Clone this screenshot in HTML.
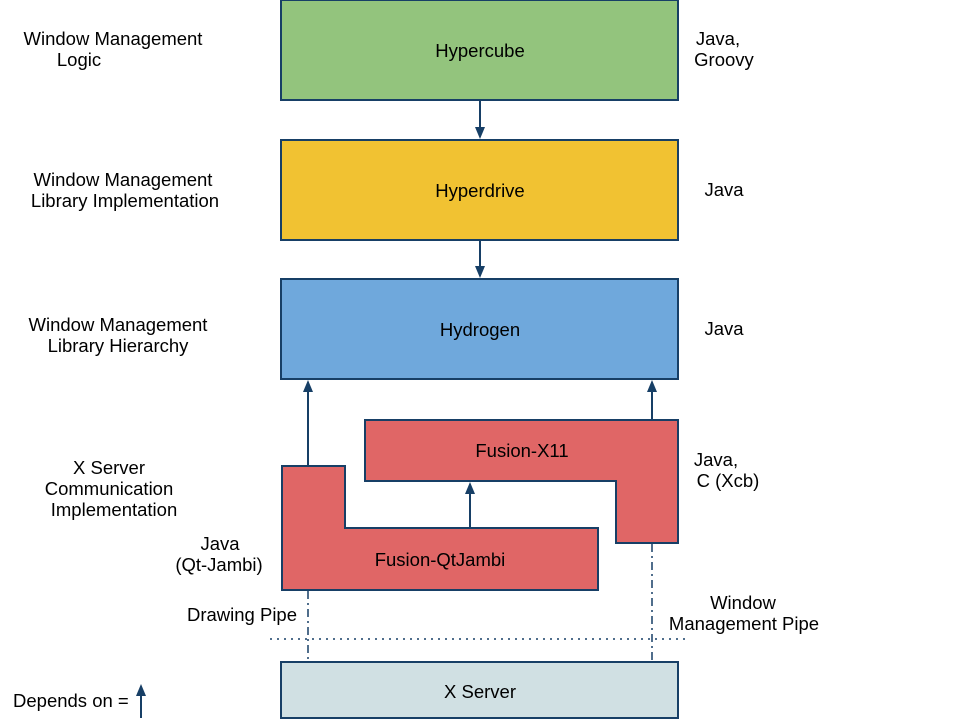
<!DOCTYPE html>
<html><head><style>body{margin:0;background:#fff}</style></head><body>
<svg width="960" height="720" xmlns="http://www.w3.org/2000/svg" font-family="Liberation Sans, sans-serif" font-size="18.5">
<g stroke="#173f66" stroke-width="2">
<rect x="281" y="0" width="397" height="100" fill="#93c47d"/>
<rect x="281" y="140" width="397" height="100" fill="#f1c232"/>
<rect x="281" y="279" width="397" height="100" fill="#6fa8dc"/>
<rect x="281" y="662" width="397" height="56" fill="#d0e0e3"/>
<path d="M365,420 H678 V543 H616 V481 H365 Z" fill="#e06666"/>
<path d="M282,466 H345 V528 H598 V590 H282 Z" fill="#e06666"/>
</g>
<g stroke="#173f66" stroke-width="2" fill="none">
<line x1="480" y1="100" x2="480" y2="130"/>
<line x1="480" y1="240" x2="480" y2="270"/>
<line x1="308" y1="466" x2="308" y2="390"/>
<line x1="652" y1="420" x2="652" y2="390"/>
<line x1="470" y1="528" x2="470" y2="492"/>
<line x1="141" y1="718" x2="141" y2="694"/>
<line x1="308" y1="591" x2="308" y2="662" stroke-width="1.5" stroke-dasharray="8,4,2,4"/>
<line x1="652" y1="544" x2="652" y2="660" stroke-width="1.5" stroke-dasharray="8,4,2,4"/>
<line x1="270" y1="639" x2="686" y2="639" stroke-width="1.5" stroke-dasharray="2,5"/>
</g>
<g fill="#173f66">
<polygon points="475,127 485,127 480,139"/>
<polygon points="475,266 485,266 480,278"/>
<polygon points="303,392 313,392 308,380"/>
<polygon points="647,392 657,392 652,380"/>
<polygon points="465,494 475,494 470,482"/>
<polygon points="136,696 146,696 141,684"/>
</g>
<g fill="#000" text-anchor="middle">
<text x="480" y="57">Hypercube</text>
<text x="480" y="197">Hyperdrive</text>
<text x="480" y="336">Hydrogen</text>
<text x="522" y="457">Fusion-X11</text>
<text x="440" y="566">Fusion-QtJambi</text>
<text x="480" y="698">X Server</text>
<text x="113" y="45">Window Management</text><text x="79" y="66">Logic</text>
<text x="123" y="186">Window Management</text><text x="125" y="207">Library Implementation</text>
<text x="118" y="331">Window Management</text><text x="118" y="352">Library Hierarchy</text>
<text x="109" y="474">X Server</text><text x="109" y="495">Communication</text><text x="114" y="516">Implementation</text>
<text x="220" y="550">Java</text><text x="219" y="571">(Qt-Jambi)</text>
<text x="242" y="621">Drawing Pipe</text>
<text x="743" y="609">Window</text><text x="744" y="630">Management Pipe</text>
<text x="718" y="45">Java,</text><text x="724" y="66">Groovy</text>
<text x="724" y="196">Java</text>
<text x="724" y="335">Java</text>
<text x="716" y="466">Java,</text><text x="728" y="487">C (Xcb)</text>
</g>
<text x="13" y="707">Depends on =</text>
</svg>
</body></html>
